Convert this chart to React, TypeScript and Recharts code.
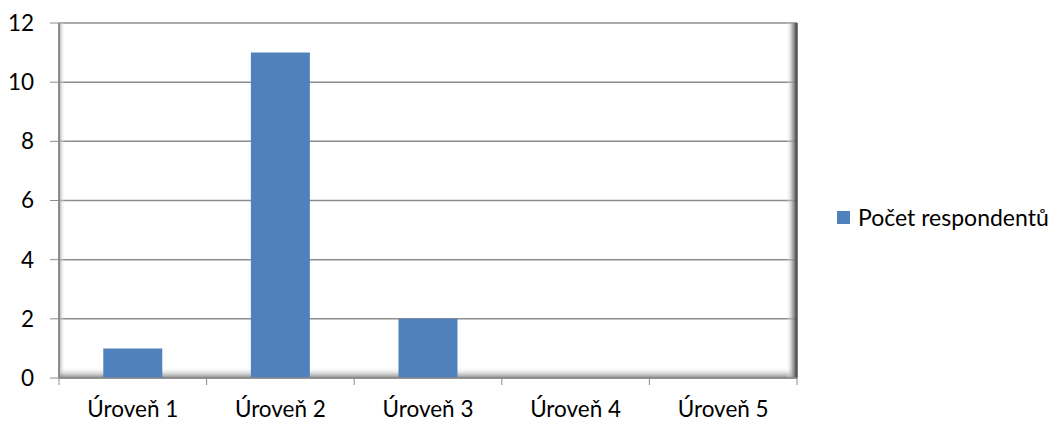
import React from "react";
import {
  BarChart,
  Bar,
  XAxis,
  YAxis,
  CartesianGrid,
  Customized,
} from "recharts";

const categories = ["Úroveň 1", "Úroveň 2", "Úroveň 3", "Úroveň 4", "Úroveň 5"];
const respondents = [1, 11, 2, 0, 0];
const yTicks = [0, 2, 4, 6, 8, 10, 12];
const seriesName = "Počet respondentů";

const data = categories.map((name, i) => ({ name, value: respondents[i] }));

const WIDTH = 1053;
const HEIGHT = 421;
const MARGIN = { top: 23, right: 256, bottom: 0, left: 0 };
const Y_AXIS_W = 59;
const X_AXIS_H = 43;
const FONT = "Lato, 'Open Sans', sans-serif";
const BAR_COLOR = "#4F81BD";
const GRID = "#8c8c8c";

// plot rectangle, derived from the margins above
const PX0 = MARGIN.left + Y_AXIS_W;
const PX1 = WIDTH - MARGIN.right;
const PY0 = MARGIN.top;
const PY1 = HEIGHT - MARGIN.bottom - X_AXIS_H;

// bevelled frame around the plot area plus tick marks at category edges
function PlotFrame() {
  const w = PX1 - PX0;
  const step = w / categories.length;
  return (
    <g>
      <defs>
        <linearGradient id="bevL" x1="0" y1="0" x2="1" y2="0">
          <stop offset="0%" stopColor="#9a9a9a" stopOpacity={0.9} />
          <stop offset="100%" stopColor="#ffffff" stopOpacity={0} />
        </linearGradient>
        <linearGradient id="bevB" x1="0" y1="0" x2="0" y2="1">
          <stop offset="0%" stopColor="#ffffff" stopOpacity={0} />
          <stop offset="100%" stopColor="#808080" stopOpacity={0.95} />
        </linearGradient>
        <linearGradient id="bevR" x1="0" y1="0" x2="1" y2="0">
          <stop offset="0%" stopColor="#ffffff" stopOpacity={0} />
          <stop offset="60%" stopColor="#9a9a9a" stopOpacity={0.8} />
          <stop offset="100%" stopColor="#3a3a3a" stopOpacity={1} />
        </linearGradient>
      </defs>
      <rect x={PX0} y={PY0} width={6} height={PY1 - PY0} fill="url(#bevL)" />
      <rect x={PX0} y={PY1 - 11} width={w} height={11} fill="url(#bevB)" />
      <rect x={PX1 - 11} y={PY0} width={11} height={PY1 - PY0} fill="url(#bevR)" />
      <line x1={PX1} y1={PY0} x2={PX1} y2={PY1} stroke="#555" strokeWidth={1.5} />
      {categories.concat([""]).map((_, i) => (
        <line
          key={i}
          x1={PX0 + i * step}
          x2={PX0 + i * step}
          y1={PY1}
          y2={PY1 + 7}
          stroke={GRID}
        />
      ))}
    </g>
  );
}

export default function App() {
  return (
    <div
      style={{
        position: "absolute",
        left: 0,
        top: 0,
        width: WIDTH,
        height: HEIGHT,
        background: "#fff",
        fontFamily: FONT,
      }}
    >
      <BarChart
        width={WIDTH}
        height={HEIGHT}
        data={data}
        margin={MARGIN}
        barCategoryGap="30%"
      >
        <CartesianGrid vertical={false} stroke={GRID} strokeWidth={1.5} />
        <XAxis
          dataKey="name"
          height={X_AXIS_H}
          tickLine={false}
          axisLine={{ stroke: GRID, strokeWidth: 1.5 }}
          tickMargin={17}
          tick={{ fill: "#000", fontSize: 22.5, fontFamily: FONT }}
        />
        <YAxis
          width={Y_AXIS_W}
          domain={[0, 12]}
          ticks={yTicks}
          tickSize={9}
          tickMargin={16}
          axisLine={{ stroke: GRID, strokeWidth: 2 }}
          tickLine={{ stroke: GRID }}
          tick={{ fill: "#000", fontSize: 22.5, fontFamily: FONT }}
        />
        <Customized component={PlotFrame} />
        <Bar dataKey="value" name={seriesName} fill={BAR_COLOR} isAnimationActive={false} />
      </BarChart>
      <div
        style={{
          position: "absolute",
          left: 837,
          top: 203,
          display: "flex",
          alignItems: "center",
          fontSize: 23,
          color: "#000",
          whiteSpace: "nowrap",
        }}
      >
        <span
          style={{
            display: "inline-block",
            width: 13,
            height: 13,
            background: BAR_COLOR,
            marginRight: 8,
          }}
        />
        {seriesName}
      </div>
    </div>
  );
}
